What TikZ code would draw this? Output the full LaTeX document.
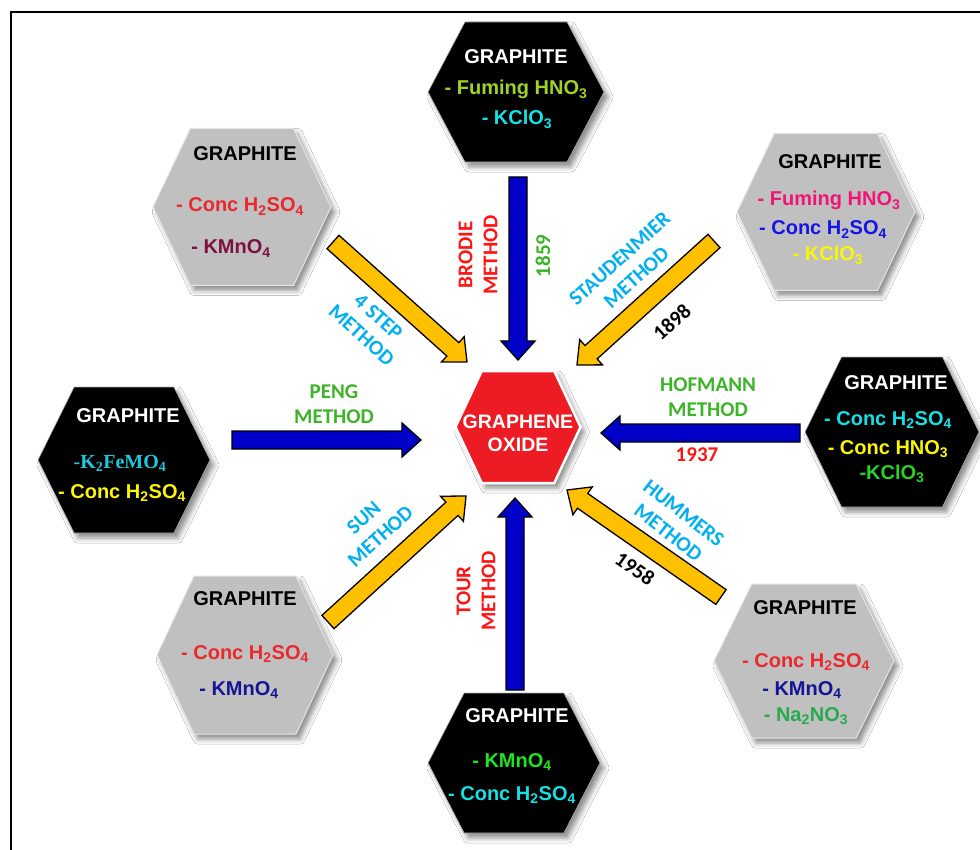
\documentclass[tikz,border=0pt]{standalone}
\usepackage{fontspec}
\setmainfont{Liberation Sans}
\newfontfamily\carl{Carlito}
\newfontfamily\lserif{Liberation Serif}
\usetikzlibrary{calc,shadows.blur}
\definecolor{hexgray}{RGB}{192,192,192}
\definecolor{ygreen}{RGB}{160,210,40}
\definecolor{hcyan}{RGB}{20,225,230}
\definecolor{kcyan}{RGB}{30,200,220}
\definecolor{tred}{RGB}{235,40,45}
\definecolor{dmag}{RGB}{125,15,65}
\definecolor{tpink}{RGB}{240,20,120}
\definecolor{tblue}{RGB}{20,20,230}
\definecolor{tyellow}{RGB}{250,245,10}
\definecolor{tgreen}{RGB}{40,210,40}
\definecolor{dblue}{RGB}{20,20,150}
\definecolor{nagreen}{RGB}{40,170,80}
\definecolor{bgreen}{RGB}{30,230,30}
\definecolor{lblue}{RGB}{0,176,240}
\definecolor{lred}{RGB}{255,20,20}
\definecolor{lgreen}{RGB}{60,180,40}
\definecolor{arrblue}{RGB}{0,0,200}
\definecolor{arryellow}{RGB}{255,192,0}
\definecolor{gored}{RGB}{237,28,36}
\newcommand\sbs[1]{\textsubscript{#1}}
\newcommand\hexa[6]{%
  \path[#6] ({#2-#4/2},#3) -- ({#2-#4/2+0.21*#4},{#3-#5/2}) -- ({#2+#4/2-0.21*#4},{#3-#5/2}) -- ({#2+#4/2},#3) -- ({#2+#4/2-0.21*#4},{#3+#5/2}) -- ({#2-#4/2+0.21*#4},{#3+#5/2}) -- cycle;
  \coordinate (#1) at (#2,#3);}
\newcommand\barrow[3]{%
  \coordinate (#1-h) at ($(#2)!19pt!(#1)$);
  \draw[arrowline, fill=#3] ($(#1)!9pt!90:(#2)$) -- ($(#1-h)!9pt!90:(#2)$) -- ($(#1-h)!17pt!90:(#2)$) -- (#2) -- ($(#1-h)!17pt!-90:(#2)$) -- ($(#1-h)!9pt!-90:(#2)$) -- ($(#1)!9pt!-90:(#2)$) -- cycle;}
\begin{document}
\begin{tikzpicture}[x=1pt,y=-1pt,
  hshadow/.style={blur shadow={shadow xshift=4pt, shadow yshift=-5pt, shadow blur radius=5pt, shadow opacity=45}},
  grayhex/.style={hshadow, fill=hexgray, draw=white!80!gray, line width=1pt},
  blackhex/.style={hshadow, fill=black, draw=gray!60, line width=0.6pt},
  redhex/.style={hshadow, fill=gored, draw=white, line width=2.5pt},
  arrowline/.style={draw=black, line width=1.3pt, line join=miter},
  ht/.style={font=\fontsize{20}{24}\selectfont\bfseries, inner sep=0pt, anchor=base},
  lb/.style={font=\carl\fontsize{21}{25}\selectfont\bfseries, align=center, inner sep=0pt, anchor=center}]
\useasboundingbox (0,0) rectangle (980,850);
\fill[white] (0,0) rectangle (980,850);
\draw[line width=2.5pt] (11,852) -- (11,12) -- (982,12);

% hexagons
\hexa{h1}{516}{92}{176}{140}{blackhex}
\hexa{h2}{242}{207}{178}{157}{grayhex}
\hexa{h3}{826}{212}{178}{157}{grayhex}
\hexa{h4}{124}{460}{172}{146}{blackhex}
\hexa{h5}{892}{432}{174}{150}{blackhex}
\hexa{h6}{245}{655}{176}{158}{grayhex}
\hexa{h7}{804}{661}{180}{154}{grayhex}
\hexa{h8}{514}{763}{172}{140}{blackhex}
\hexa{go}{518}{427}{125}{112}{redhex}

% arrow end points
\coordinate (a1s) at (518,177); \coordinate (a1e) at (518,360);
\coordinate (a2s) at (333,242); \coordinate (a2e) at (467,362);
\coordinate (a3s) at (714,241); \coordinate (a3e) at (577,365);
\coordinate (a4s) at (232,440); \coordinate (a4e) at (421,440);
\coordinate (a5s) at (800,433); \coordinate (a5e) at (601,433);
\coordinate (a6s) at (328,622); \coordinate (a6e) at (466,496);
\coordinate (a7s) at (515,690); \coordinate (a7e) at (515,498);
\coordinate (a8s) at (721,597); \coordinate (a8e) at (567,490);

\barrow{a1s}{a1e}{arrblue}
\barrow{a2s}{a2e}{arryellow}
\barrow{a3s}{a3e}{arryellow}
\barrow{a4s}{a4e}{arrblue}
\barrow{a5s}{a5e}{arrblue}
\barrow{a6s}{a6e}{arryellow}
\barrow{a7s}{a7e}{arrblue}
\barrow{a8s}{a8e}{arryellow}

% hexagon texts
\node[ht, text=white] (t1a) at (516,64) {GRAPHITE};
\node[ht, text=ygreen] (t1b) at (516,95) {- Fuming HNO\sbs{3}};
\node[ht, text=hcyan] (t1c) at (517,125) {- KClO\sbs{3}};

\node[ht, text=black] (t2a) at (245,161) {GRAPHITE};
\node[ht, text=tred] (t2b) at (240,212) {- Conc H\sbs{2}SO\sbs{4}};
\node[ht, text=dmag] (t2c) at (231,254) {- KMnO\sbs{4}};

\node[ht, text=black] (t3a) at (830,169) {GRAPHITE};
\node[ht, text=tpink] (t3b) at (829,206) {- Fuming HNO\sbs{3}};
\node[ht, text=tblue] (t3c) at (823,235) {- Conc H\sbs{2}SO\sbs{4}};
\node[ht, text=tyellow] (t3d) at (828,261) {- KClO\sbs{3}};

\node[ht, text=white] (t4a) at (128,422) {GRAPHITE};
\node[ht, text=kcyan, font=\lserif\fontsize{20}{24}\selectfont\bfseries] (t4b) at (120,468) {-K\sbs{2}FeMO\sbs{4}};
\node[ht, text=tyellow] (t4c) at (122,498) {- Conc H\sbs{2}SO\sbs{4}};

\node[ht, text=white] (t5a) at (896,389) {GRAPHITE};
\node[ht, text=hcyan] (t5b) at (888,425) {- Conc H\sbs{2}SO\sbs{4}};
\node[ht, text=tyellow] (t5c) at (888,454) {- Conc HNO\sbs{3}};
\node[ht, text=tgreen] (t5d) at (892,479) {-KClO\sbs{3}};

\node[ht, text=black] (t6a) at (245,605) {GRAPHITE};
\node[ht, text=tred] (t6b) at (245,659) {- Conc H\sbs{2}SO\sbs{4}};
\node[ht, text=dblue] (t6c) at (239,695) {- KMnO\sbs{4}};

\node[ht, text=black] (t7a) at (805,614) {GRAPHITE};
\node[ht, text=tred] (t7b) at (806,667) {- Conc H\sbs{2}SO\sbs{4}};
\node[ht, text=dblue] (t7c) at (802,695) {- KMnO\sbs{4}};
\node[ht, text=nagreen] (t7d) at (806,721) {- Na\sbs{2}NO\sbs{3}};

\node[ht, text=white] (t8a) at (517,722) {GRAPHITE};
\node[ht, text=bgreen] (t8b) at (512,767) {- KMnO\sbs{4}};
\node[ht, text=hcyan] (t8c) at (512,800) {- Conc H\sbs{2}SO\sbs{4}};

\node[ht, text=white, font=\fontsize{19.5}{24}\selectfont\bfseries] (goa) at (518,428) {GRAPHENE};
\node[ht, text=white, font=\fontsize{19.5}{24}\selectfont\bfseries] (gob) at (518,451) {OXIDE};

% method labels
\node[lb, text=lred, rotate=90] (l1) at (478,255) {BRODIE\\METHOD};
\node[lb, text=lgreen, rotate=90] (y1) at (543,256) {1859};
\node[lb, text=lblue, rotate=-42] (l2) at (370,326) {4 STEP\\METHOD};
\node[lb, text=lblue, rotate=42] (l3) at (628,268) {STAUDENMIER\\METHOD};
\node[lb, text=black, rotate=42] (y3) at (672,322) {1898};
\node[lb, text=lgreen] (l4) at (334,404) {PENG\\METHOD};
\node[lb, text=lgreen] (l5) at (708,397) {HOFMANN\\METHOD};
\node[lb, text=lred] (y5) at (697,455) {1937};
\node[lb, text=lblue, rotate=42] (l6) at (372,527) {SUN\\METHOD};
\node[lb, text=lred, rotate=90] (l7) at (476,591) {TOUR\\METHOD};
\node[lb, text=lblue, rotate=-38] (l8) at (676,523) {HUMMERS\\METHOD};
\node[lb, text=black, rotate=-35] (y8) at (635,569) {1958};
\end{tikzpicture}
\end{document}
